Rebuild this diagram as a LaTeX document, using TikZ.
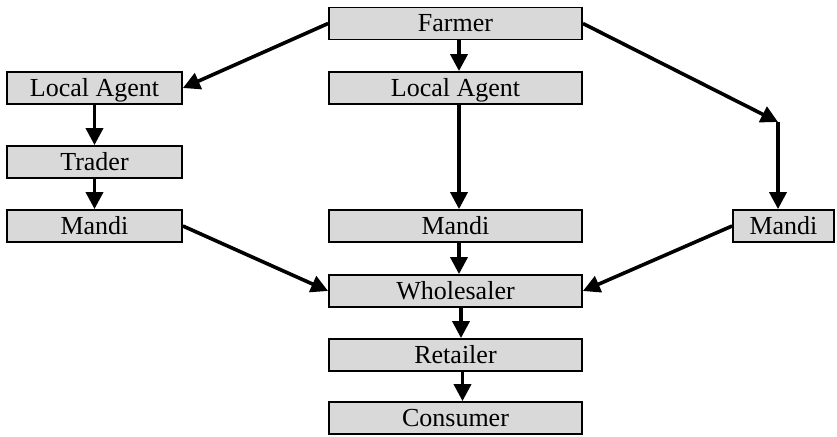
\documentclass[tikz,border=0pt]{standalone}
\usepackage{fontspec}
\setmainfont{Liberation Serif}
\usetikzlibrary{arrows.meta}
\begin{document}
\begin{tikzpicture}[x=1pt,y=-1pt,
  box/.style={draw=black,line width=1.8pt,fill=boxgray,inner sep=0pt,
    text height=17pt,text depth=0pt,font=\fontsize{26}{30}\selectfont},
  midbox/.style={box,minimum width=253pt,minimum height=32pt},
  leftbox/.style={box,minimum width=175pt,minimum height=32pt},
  flow/.style={line width=3.6pt,-{Triangle[length=17pt,width=17pt]}}]
\definecolor{boxgray}{HTML}{D9D9D9}
\useasboundingbox (0,0) rectangle (837,436);
% central chain
\node[midbox] (farmer) at (455.5,23.5) {Farmer};
\node[midbox] (la2) at (455.5,88) {Local Agent};
\node[midbox] (m2) at (455.5,226) {Mandi};
\node[midbox] (whole) at (455.5,291) {Wholesaler};
\node[midbox] (retail) at (455.5,355) {Retailer};
\node[midbox] (cons) at (455.5,418) {Consumer};
% left chain
\node[leftbox] (la1) at (94.5,88) {Local Agent};
\node[leftbox] (trader) at (94.5,162) {Trader};
\node[leftbox] (m1) at (94.5,226) {Mandi};
% right branch
\node[box,minimum width=101pt,minimum height=32pt] (m3) at (783.5,226) {Mandi};
\coordinate (bend) at (778,122);
% connectors
\draw[flow] (farmer.west) -- (la1.east);
\draw[flow] ([xshift=3.5pt]farmer.south) -- ([xshift=3.5pt]la2.north);
\draw[flow] (farmer.east) -- (bend);
\draw[flow] (bend) -- (bend |- m3.north);
\draw[flow] (la1.south) -- (trader.north);
\draw[flow] (trader.south) -- (m1.north);
\draw[flow] ([xshift=3.5pt]la2.south) -- ([xshift=3.5pt]m2.north);
\draw[flow] ([xshift=3.5pt]m2.south) -- ([xshift=3.5pt]whole.north);
\draw[flow] ([xshift=5.5pt]whole.south) -- ([xshift=5.5pt]retail.north);
\draw[flow] ([xshift=7pt]retail.south) -- ([xshift=7pt]cons.north);
\draw[flow] (m1.east) -- (whole.west);
\draw[flow] (m3.west) -- (whole.east);
\end{tikzpicture}
\end{document}
